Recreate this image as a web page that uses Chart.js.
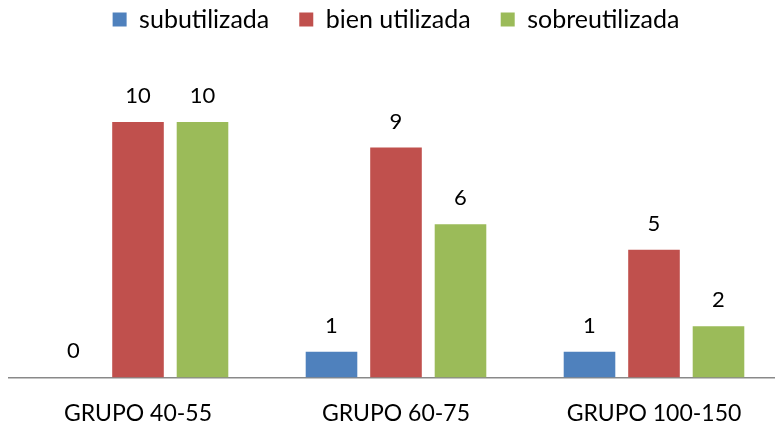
<!DOCTYPE html>
<html>
<head>
<meta charset="utf-8">
<script src="https://cdn.jsdelivr.net/npm/chart.js@4/dist/chart.umd.min.js"></script>
<style>
  html, body { margin: 0; padding: 0; background: #fff; overflow: hidden; }
  #wrap { width: 800px; height: 442px; }
</style>
</head>
<body>
<div id="wrap"><canvas id="myChart"></canvas></div>
<script>
const grupos = ['GRUPO 40-55', 'GRUPO 60-75', 'GRUPO 100-150'];
const subutilizada = [0, 1, 1];
const bienUtilizada = [10, 9, 5];
const sobreutilizada = [10, 6, 2];

const FONT = 'Lato, "Open Sans", sans-serif';

// etiquetas de valor encima de cada barra
const valueLabels = {
  id: 'valueLabels',
  afterDatasetsDraw(chart) {
    const ctx = chart.ctx;
    ctx.save();
    ctx.font = '22px ' + FONT;
    ctx.fillStyle = '#000';
    ctx.textAlign = 'center';
    ctx.textBaseline = 'middle';
    chart.data.datasets.forEach(function(ds, i) {
      chart.getDatasetMeta(i).data.forEach(function(bar, j) {
        ctx.fillText(String(ds.data[j]), bar.x, bar.y - 26);
      });
    });
    ctx.restore();
  }
};

// espacio extra debajo de la leyenda
const legendSpace = {
  id: 'legendSpace',
  beforeInit(chart) {
    const fit = chart.legend.fit;
    chart.legend.fit = function() {
      fit.bind(chart.legend)();
      this.height += 29;
    };
  }
};

const data = {
  labels: grupos,
  datasets: [{
    label: 'subutilizada',
    backgroundColor: '#4F81BD',
    data: subutilizada
  }, {
    label: 'bien utilizada',
    backgroundColor: '#C0504D',
    data: bienUtilizada
  }, {
    label: 'sobreutilizada',
    backgroundColor: '#9BBB59',
    data: sobreutilizada
  }]
};

const config = {
  type: 'bar',
  data: data,
  options: {
    responsive: true,
    maintainAspectRatio: false,
    animation: false,
    categoryPercentage: 0.75,
    barPercentage: 0.8,
    layout: { padding: { left: 9, right: 17, top: -23, bottom: 1 } },
    plugins: {
      legend: {
        position: 'top',
        labels: {
          boxWidth: 14,
          boxHeight: 14,
          padding: 30,
          color: '#000',
          font: { family: FONT, size: 25 }
        }
      },
      tooltip: { enabled: false }
    },
    scales: {
      x: {
        grid: { display: false },
        border: { display: true, color: '#898989', width: 1.5 },
        ticks: { color: '#000', padding: 14, font: { family: FONT, size: 23 } }
      },
      y: {
        display: false,
        min: 0,
        max: 12
      }
    }
  },
  plugins: [valueLabels, legendSpace]
};

const myChart = new Chart(document.getElementById('myChart'), config);
</script>
</body>
</html>
